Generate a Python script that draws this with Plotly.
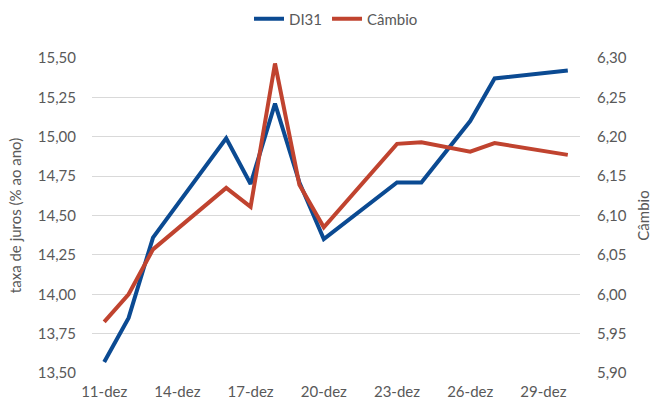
import plotly.graph_objects as go

# Business days in December 2024
dates = ["2024-12-11", "2024-12-12", "2024-12-13", "2024-12-16", "2024-12-17",
         "2024-12-18", "2024-12-19", "2024-12-20", "2024-12-23", "2024-12-24",
         "2024-12-26", "2024-12-27", "2024-12-30"]
di31 = [13.57, 13.85, 14.36, 14.99, 14.70, 15.21, 14.71, 14.35, 14.71, 14.71,
        15.10, 15.37, 15.42]
cambio = [5.965, 6.00, 6.057, 6.135, 6.111, 6.293, 6.139, 6.085, 6.191, 6.193,
          6.181, 6.192, 6.177]

tick_dates = ["2024-12-11", "2024-12-14", "2024-12-17", "2024-12-20",
              "2024-12-23", "2024-12-26", "2024-12-29"]
tick_text = ["11-dez", "14-dez", "17-dez", "20-dez", "23-dez", "26-dez", "29-dez"]

left_ticks = [13.50, 13.75, 14.00, 14.25, 14.50, 14.75, 15.00, 15.25, 15.50]
right_ticks = [5.90, 5.95, 6.00, 6.05, 6.10, 6.15, 6.20, 6.25, 6.30]

BLUE = "#0B4A92"
RED = "#C0432F"
TEXT = "#595959"
GRID = "#D9D9D9"
FONT = "Lato"
SIZE = 15

fig = go.Figure()
fig.add_trace(go.Scatter(x=dates, y=di31, name="DI31", mode="lines",
                         line=dict(color=BLUE, width=4), yaxis="y"))
fig.add_trace(go.Scatter(x=dates, y=cambio, name="Câmbio", mode="lines",
                         line=dict(color=RED, width=4), yaxis="y2"))

fig.update_layout(
    width=657, height=403,
    margin=dict(l=92, r=77, t=58, b=30, autoexpand=False),
    paper_bgcolor="white", plot_bgcolor="white",
    separators=",.",
    font=dict(family=FONT, size=SIZE, color=TEXT),
    showlegend=True,
    legend=dict(orientation="h", x=0.5, xanchor="center",
                y=0.953, yanchor="middle", yref="container",
                font=dict(family=FONT, size=SIZE, color=TEXT),
                itemwidth=30, tracegroupgap=0),
    xaxis=dict(type="date", range=["2024-12-10 12:00", "2024-12-30 12:00"],
               tickvals=tick_dates, ticktext=tick_text, showgrid=False,
               showline=False, zeroline=False, ticks="",
               ticklabelstandoff=8,
               tickfont=dict(family=FONT, size=SIZE, color=TEXT)),
    yaxis=dict(range=[13.5, 15.5], tickvals=left_ticks, tickformat=".2f",
               showgrid=True, gridcolor=GRID, gridwidth=1, zeroline=False,
               showline=False, ticks="", ticklabelstandoff=15,
               title=dict(text="taxa de juros (% ao ano)", standoff=12,
                          font=dict(family=FONT, size=SIZE, color=TEXT)),
               tickfont=dict(family=FONT, size=SIZE, color=TEXT)),
    yaxis2=dict(range=[5.9, 6.3], tickvals=right_ticks, tickformat=".2f",
                overlaying="y", side="right", showgrid=False, zeroline=False,
                showline=False, ticks="", ticklabelstandoff=16,
                title=dict(text="Câmbio", standoff=12,
                           font=dict(family=FONT, size=SIZE, color=TEXT)),
                tickfont=dict(family=FONT, size=SIZE, color=TEXT)),
)

fig.write_html("out.html")
